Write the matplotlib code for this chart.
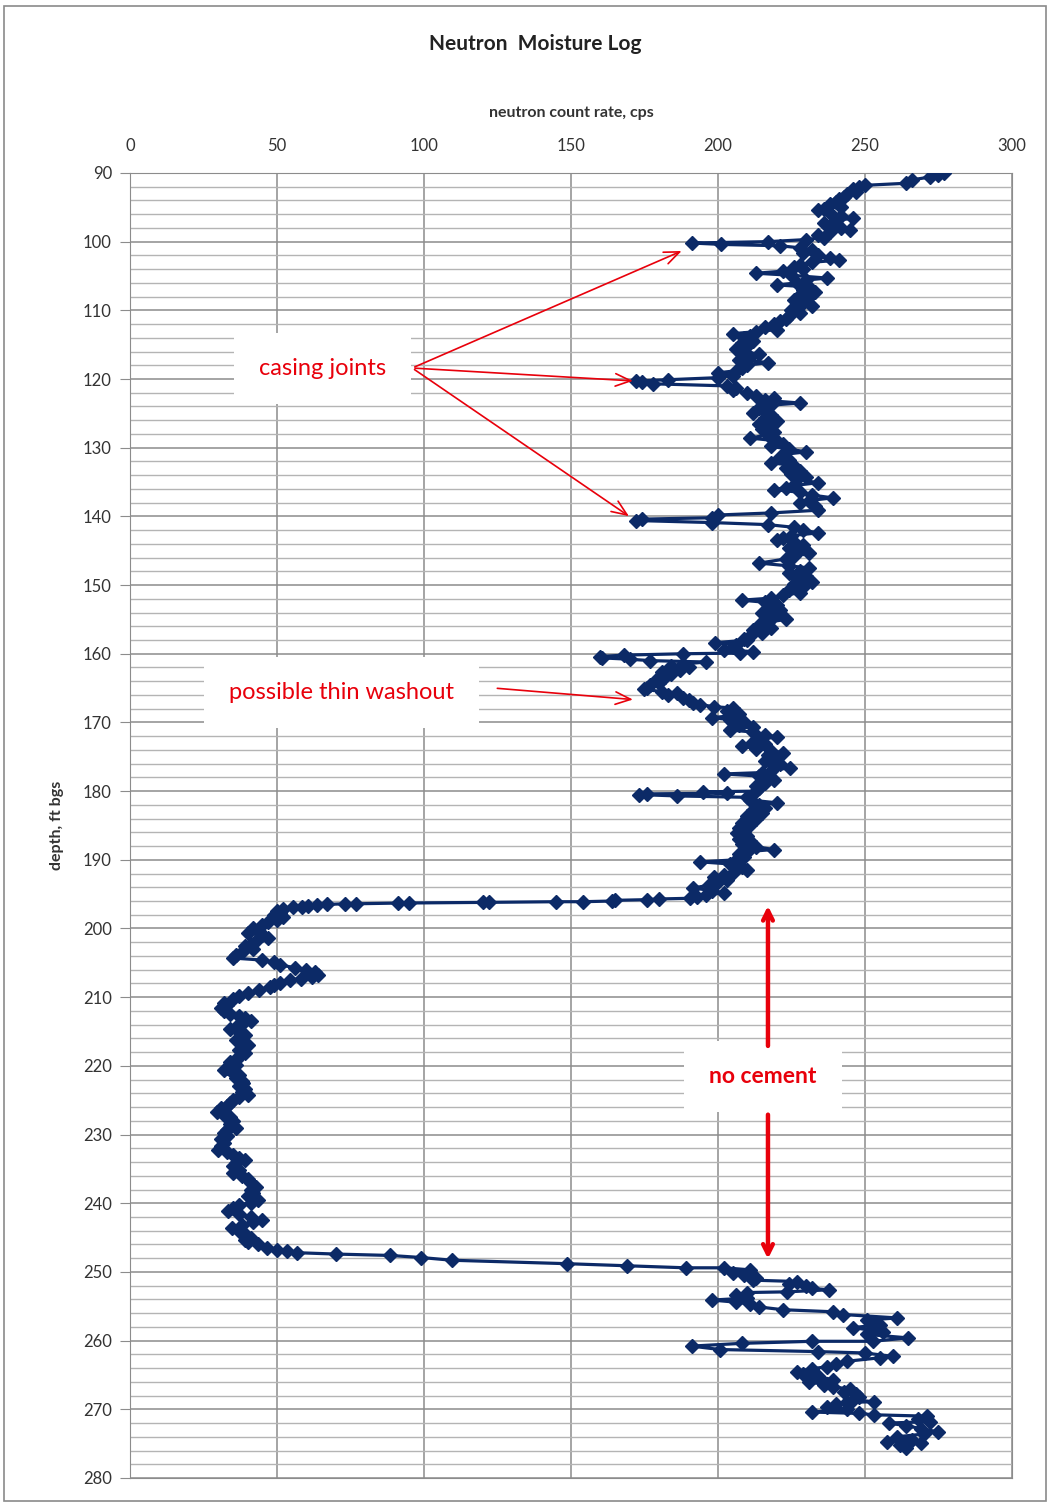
import matplotlib.pyplot as plt
from matplotlib.patches import Rectangle
import numpy as np

plt.rcParams['font.family'] = ['Lato', 'DejaVu Sans']

# Neutron log readings: depth (ft bgs) and count rate (cps)
depth_ft = [
    90.0, 90.3, 90.6, 91.0, 91.5, 91.8, 92.1, 92.4, 92.8, 93.1,
    93.5, 93.8, 94.2, 94.5, 94.9, 95.2, 95.4, 95.8, 96.2, 96.6,
    96.9, 97.3, 97.7, 98.0, 98.3, 98.6, 99.0, 99.4, 99.7, 100.0,
    100.2, 100.4, 100.6, 100.9, 101.2, 101.6, 102.0, 102.4, 102.7, 103.0,
    103.4, 103.7, 104.0, 104.3, 104.6, 104.9, 105.3, 105.6, 106.0, 106.3,
    106.6, 107.0, 107.4, 107.7, 108.1, 108.5, 108.9, 109.3, 109.7, 110.0,
    110.4, 110.8, 111.2, 111.6, 112.0, 112.4, 112.8, 113.1, 113.4, 113.7,
    114.1, 114.5, 114.8, 115.2, 115.6, 116.0, 116.4, 116.8, 117.2, 117.6,
    118.0, 118.4, 118.8, 119.1, 119.5, 119.8, 120.1, 120.3, 120.5, 120.7,
    121.0, 121.3, 121.6, 122.0, 122.4, 122.8, 123.1, 123.5, 123.8, 124.2,
    124.6, 124.9, 125.3, 125.7, 126.1, 126.5, 126.9, 127.3, 127.7, 128.1,
    128.6, 129.0, 129.4, 129.8, 130.2, 130.6, 131.0, 131.4, 131.8, 132.2,
    132.6, 133.0, 133.4, 133.8, 134.2, 134.6, 135.1, 135.5, 135.8, 136.1,
    136.5, 136.9, 137.3, 137.7, 138.1, 138.5, 139.1, 139.5, 139.8, 140.2,
    140.4, 140.6, 140.9, 141.2, 141.6, 142.0, 142.4, 142.8, 143.1, 143.4,
    143.8, 144.2, 144.6, 145.0, 145.4, 145.8, 146.2, 146.8, 147.2, 147.5,
    147.9, 148.3, 148.7, 149.1, 149.5, 149.9, 150.3, 150.7, 151.1, 151.5,
    151.9, 152.2, 152.5, 152.9, 153.3, 153.7, 154.1, 154.5, 155.0, 155.4,
    155.8, 156.2, 156.6, 157.0, 157.4, 157.8, 158.0, 158.4, 158.7, 159.0,
    159.4, 159.7, 159.9, 160.0, 160.2, 160.4, 160.6, 160.8, 161.0, 161.2,
    161.5, 161.8, 162.0, 162.3, 162.6, 163.0, 163.4, 163.8, 164.2, 164.6,
    165.0, 165.2, 165.5, 165.7, 166.0, 166.4, 166.8, 167.1, 167.4, 167.7,
    167.9, 168.3, 168.7, 169.0, 169.3, 169.6, 170.0, 170.3, 170.6, 171.1,
    171.4, 171.8, 172.1, 172.5, 172.9, 173.2, 173.5, 173.8, 174.1, 174.4,
    174.8, 175.2, 175.6, 176.0, 176.3, 176.6, 177.0, 177.3, 177.5, 177.8,
    178.1, 178.4, 178.8, 179.2, 179.6, 180.0, 180.1, 180.3, 180.4, 180.5,
    180.7, 180.9, 181.1, 181.3, 181.7, 182.0, 182.4, 182.8, 183.2, 183.6,
    184.0, 184.2, 184.6, 185.0, 185.4, 185.8, 186.1, 186.5, 186.9, 187.3,
    187.7, 188.1, 188.5, 188.8, 189.2, 189.6, 190.0, 190.3, 190.6, 191.0,
    191.5, 191.9, 192.2, 192.5, 192.9, 193.3, 193.7, 194.1, 194.5, 194.8,
    195.1, 195.4, 195.6, 195.7, 195.8, 195.9, 196.0, 196.1, 196.1, 196.2,
    196.2, 196.3, 196.3, 196.4, 196.4, 196.5, 196.6, 196.7, 196.8, 196.9,
    197.1, 197.4, 197.7, 198.0, 198.3, 198.7, 199.1, 199.5, 199.9, 200.3,
    200.6, 201.0, 201.4, 201.8, 202.2, 202.6, 203.0, 203.4, 203.8, 204.3,
    204.6, 204.9, 205.3, 205.7, 206.0, 206.4, 206.7, 207.0, 207.3, 207.5,
    207.9, 208.2, 208.5, 208.9, 209.4, 209.8, 210.3, 210.8, 211.2, 211.6,
    212.0, 212.4, 212.8, 213.1, 213.5, 213.9, 214.3, 214.7, 215.1, 215.5,
    215.9, 216.3, 216.9, 217.3, 217.7, 218.1, 218.6, 219.1, 219.5, 219.9,
    220.3, 220.6, 221.0, 221.4, 221.8, 222.2, 222.5, 222.9, 223.3, 223.8,
    224.2, 224.6, 225.0, 225.4, 225.8, 226.2, 226.7, 227.1, 227.5, 228.0,
    228.5, 229.0, 229.4, 229.8, 230.2, 230.7, 231.2, 231.7, 232.2, 232.6,
    233.0, 233.4, 233.7, 234.1, 234.6, 235.1, 235.6, 236.0, 236.5, 237.0,
    237.6, 238.0, 238.5, 239.0, 239.5, 239.9, 240.3, 240.7, 241.2, 241.6,
    242.0, 242.4, 242.8, 243.2, 243.6, 244.0, 244.5, 245.0, 245.3, 245.6,
    246.0, 246.5, 246.8, 247.0, 247.2, 247.4, 247.6, 247.9, 248.3, 248.8,
    249.1, 249.4, 249.4, 249.7, 250.1, 250.5, 250.9, 251.2, 251.4, 251.8,
    252.1, 252.4, 252.6, 252.9, 253.0, 253.4, 253.8, 254.1, 254.4, 254.7,
    255.1, 255.5, 255.8, 256.2, 256.7, 257.0, 257.4, 257.7, 258.1, 258.5,
    258.8, 259.1, 259.6, 260.1, 260.1, 260.4, 260.8, 261.3, 261.6, 261.8,
    262.3, 262.5, 263.0, 263.4, 263.8, 264.1, 264.5, 264.8, 265.2, 265.7,
    266.0, 266.4, 266.7, 267.1, 267.5, 267.8, 268.2, 268.6, 268.9, 269.0,
    269.3, 269.6, 270.0, 270.4, 270.6, 270.8, 271.0, 271.4, 271.8, 272.0,
    272.4, 272.8, 273.3, 273.6, 274.0, 274.4, 274.7, 274.9, 275.2, 275.6,
]

count_cps = [
    277, 275, 272, 266, 264, 250, 248, 246, 247, 244,
    243, 241, 240, 238, 242, 236, 234, 238, 242, 246,
    240, 236, 238, 242, 245, 238, 234, 236, 230, 217,
    191, 201, 221, 228, 232, 229, 234, 238, 241, 232,
    228, 226, 229, 222, 213, 225, 237, 230, 227, 220,
    231, 229, 233, 228, 231, 226, 229, 232, 227, 225,
    228, 224, 223, 221, 219, 216, 220, 213, 205, 211,
    209, 212, 208, 210, 206, 209, 214, 211, 207, 217,
    210, 208, 206, 200, 205, 200, 183, 172, 174, 178,
    203, 206, 205, 210, 213, 219, 216, 228, 218, 214,
    216, 212, 218, 216, 220, 214, 218, 215, 219, 217,
    211, 220, 222, 218, 224, 230, 222, 221, 224, 218,
    226, 223, 228, 225, 230, 227, 234, 226, 223, 219,
    228, 232, 239, 231, 228, 233, 234, 218, 200, 198,
    174, 172, 198, 217, 226, 229, 234, 225, 222, 220,
    226, 229, 224, 227, 231, 226, 223, 214, 224, 231,
    228, 224, 230, 227, 232, 226, 229, 224, 228, 222,
    218, 208, 216, 220, 217, 221, 215, 219, 223, 217,
    214, 218, 212, 215, 211, 209, 210, 199, 206, 205,
    202, 212, 207.5, 188, 168, 160, 160.5, 170, 177, 196,
    188, 184, 190, 187, 181, 184, 182, 179, 180, 177,
    176, 175, 181, 186, 183, 188, 190, 191.5, 194, 198.5,
    205, 203, 207, 205, 198, 204, 209, 207, 212, 204,
    212, 216, 220, 214, 212, 216, 208, 213, 218, 222,
    217, 220, 216, 221, 219, 224.5, 218, 215, 202, 214,
    217, 219, 216, 213, 214, 213, 195, 203, 176, 173,
    186, 210, 211, 211, 220, 214, 216, 212, 215, 210,
    213, 212, 208, 211, 207, 209, 206.5, 210, 207, 211,
    208, 213, 219, 210, 207, 209, 206, 194, 204, 208,
    210, 205, 202, 198.5, 203, 200, 197, 191.5, 198, 202,
    196, 193, 190.5, 180, 176, 165, 164, 154, 145, 122,
    120, 95, 91, 77, 73, 67, 63.6, 60.6, 58.5, 55.5,
    52, 50, 51, 49, 52, 50, 47, 45, 42, 44,
    40, 45, 47, 43, 41, 39, 42, 38, 36, 35,
    45, 49, 51, 56, 60, 63, 64, 62, 58, 54.5,
    51, 49, 47.6, 44, 40, 37, 35, 32, 33, 31,
    32, 34, 37, 39, 41, 38, 36, 34, 37, 39,
    38, 36, 40, 38, 37, 39, 37, 36, 34, 36,
    33, 32, 35, 37, 36, 38, 38.5, 37, 39, 38,
    40, 37, 35, 34, 33, 31, 29.5, 32, 34, 35,
    34, 36, 33, 32, 33, 31, 32, 31, 30, 33,
    35, 37, 39, 36, 35, 37, 35, 38, 40, 41,
    43, 41, 42, 40, 43.6, 41, 37, 35, 33.4, 37,
    41, 45, 42, 38, 34.7, 37, 39, 41, 39, 40,
    43.6, 46.5, 50, 53.4, 56.7, 70, 88.4, 99, 109.5, 148.6,
    169, 189, 202, 211, 205, 209, 213, 212, 227, 224,
    230, 232, 237.6, 223.5, 210, 206, 210, 198, 206, 211,
    214, 222, 239, 242.6, 261, 250.7, 253, 255, 246, 252,
    256, 250.7, 264.6, 252.7, 232, 208, 191, 200.7, 234, 250,
    259.5, 255, 244, 240, 237, 232, 227, 229, 234, 239,
    231, 236, 239, 245, 243, 247, 248, 246, 253, 244,
    240, 237, 244, 232, 248, 253, 271, 268, 272, 258,
    264, 269, 275, 270, 261, 266, 257.5, 269, 262, 264,
]

x_ticks = [0, 50, 100, 150, 200, 250, 300]
y_ticks = list(range(90, 281, 10))

navy = '#0c2a67'
red = '#e8000b'

fig = plt.figure(figsize=(10.5, 15.04), dpi=100)
fig.patches.append(Rectangle((0.004, 0.002), 0.992, 0.994, transform=fig.transFigure,
                             fill=False, edgecolor='#8a8a8a', lw=1.2))

ax = fig.add_axes([0.1238, 0.0173, 0.84, 0.8677])
ax.plot(count_cps, depth_ft, '-D', color=navy, ms=7.5, lw=2.3, mec=navy, zorder=3)

ax.set_xlim(0, 300)
ax.set_ylim(280, 90)
ax.xaxis.tick_top()
ax.set_xticks(x_ticks)
ax.set_yticks(y_ticks)
ax.set_yticks(np.arange(90, 281, 2), minor=True)
ax.grid(which='major', axis='both', color='#8c8c8c', lw=1.1)
ax.grid(which='minor', axis='y', color='#b4b4b4', lw=1)
ax.tick_params(axis='x', length=0, pad=14, labelsize=12, labelcolor='#333333')
ax.tick_params(axis='y', which='major', length=7, color='#8c8c8c', pad=6,
               labelsize=12, labelcolor='#333333')
ax.tick_params(axis='y', which='minor', length=0)
for s in ax.spines.values():
    s.set_color('#8c8c8c')

fig.text(0.51, 0.971, 'Neutron  Moisture Log', ha='center', va='center',
         fontsize=15, fontweight='bold', color='#222222')
fig.text(0.544, 0.925, 'neutron count rate, cps', ha='center', va='center',
         fontsize=11.5, fontweight='bold', color='#333333')
fig.text(0.054, 0.451, 'depth, ft bgs', ha='center', va='center', rotation=90,
         fontsize=11.5, fontweight='bold', color='#333333')

box = dict(facecolor='white', edgecolor='none', pad=18)

# casing joints
ax.text(65.6, 118.5, 'casing joints', ha='center', va='center', fontsize=17,
        color=red, bbox=box, zorder=4)
for tx, ty in [(188.5, 101.2), (172, 120.3), (170.5, 140.2)]:
    ax.annotate('', xy=(tx, ty), xytext=(96, 118.4),
                arrowprops=dict(arrowstyle='->,head_length=1.1,head_width=0.45',
                                color=red, lw=1.2), zorder=4)

# washout
ax.text(72.1, 165.7, 'possible thin washout', ha='center', va='center',
        fontsize=17, color=red, bbox=box, zorder=4)
ax.annotate('', xy=(172, 166.7), xytext=(124, 165),
            arrowprops=dict(arrowstyle='->,head_length=1.1,head_width=0.45',
                            color=red, lw=1.2), zorder=4)

# no cement
ax.text(215.3, 221.6, 'no cement', ha='center', va='center', fontsize=16.5,
        fontweight='bold', color=red, bbox=dict(facecolor='white', edgecolor='none', pad=18),
        zorder=4)
ax.annotate('', xy=(217, 196.3), xytext=(217, 217.5),
            arrowprops=dict(arrowstyle='->,head_length=0.7,head_width=0.35',
                            color=red, lw=3.2), zorder=4)
ax.annotate('', xy=(217, 248.5), xytext=(217, 226.7),
            arrowprops=dict(arrowstyle='->,head_length=0.7,head_width=0.35',
                            color=red, lw=3.2), zorder=4)

fig.savefig('out.png', dpi=100)
